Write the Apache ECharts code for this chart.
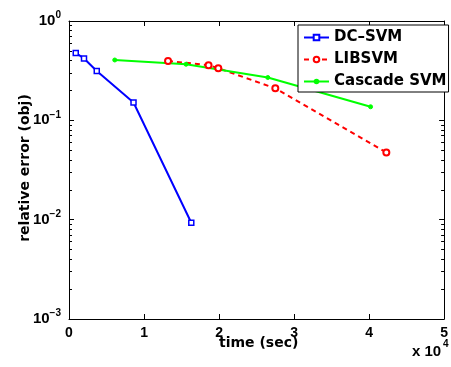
<!DOCTYPE html>
<html><head><meta charset="utf-8">
<script src="https://cdn.jsdelivr.net/npm/echarts@6/dist/echarts.min.js"></script>
<style>html,body{margin:0;padding:0;background:#fff}#c{width:451px;height:367px}</style>
</head><body><div id="c"></div>
<script>
const dcTime = [0.09, 0.20, 0.37, 0.86, 1.63];
const dcErr = [0.477, 0.419, 0.314, 0.151, 0.0093];
const libTime = [1.32, 1.86, 1.99, 2.75, 4.23];
const libErr = [0.396, 0.359, 0.335, 0.21, 0.0475];
const casTime = [0.61, 1.56, 2.65, 4.02];
const casErr = [0.405, 0.367, 0.27, 0.137];
const seriesNames = ['DC\u2013SVM', 'LIBSVM', 'Cascade SVM'];
const xTicks = ['0','1','2','3','4','5'];
const yTickExp = {'1':'0','0.1':'\u22121','0.01':'\u22122','0.001':'\u22123'};

const FONT = '"Liberation Sans", Arial, sans-serif';
const DFONT = '"DejaVu Sans", sans-serif';
const pairs = (xs, ys) => xs.map((x, i) => [x, ys[i]]);

const chart = echarts.init(document.getElementById('c'));
const axisCommon = {
  axisLine: {show: true, onZero: false, lineStyle: {color: '#000', width: 1}},
  splitLine: {show: false}
};
chart.setOption({
  animation: false,
  grid: {left: 69, right: 1, top: 21, bottom: 48},
  xAxis: [
    Object.assign({type: 'value', min: 0, max: 5, interval: 1, position: 'bottom',
      axisTick: {inside: true, length: 5, lineStyle: {color: '#000'}},
      axisLabel: {color: '#000', fontFamily: FONT, fontWeight: 'bold', fontSize: 14, margin: 7,
        formatter: v => xTicks[Math.round(v)]}}, axisCommon),
    Object.assign({type: 'value', min: 0, max: 5, interval: 1, position: 'top',
      axisTick: {inside: true, length: 5, lineStyle: {color: '#000'}},
      axisLabel: {show: false}}, axisCommon)
  ],
  yAxis: [
    Object.assign({type: 'log', logBase: 10, min: 0.001, max: 1, position: 'left',
      axisTick: {inside: true, length: 5, lineStyle: {color: '#000'}},
      minorTick: {show: true, splitNumber: 9, length: 3, lineStyle: {color: '#000'}},
      axisLabel: {color: '#000', fontFamily: FONT, fontWeight: 'bold', margin: 8,
        formatter: v => '{b|10}{s|' + (yTickExp[String(+v.toPrecision(3))] || '') + '}',
        rich: {b: {fontSize: 15, fontWeight: 'bold', fontFamily: FONT, color: '#000'},
               s: {fontSize: 10, fontWeight: 'bold', fontFamily: FONT, color: '#000', padding: [0,0,11,0]}}}}, axisCommon),
    Object.assign({type: 'log', logBase: 10, min: 0.001, max: 1, position: 'right',
      axisTick: {inside: true, length: 5, lineStyle: {color: '#000'}},
      minorTick: {show: true, splitNumber: 9, length: 3, lineStyle: {color: '#000'}},
      axisLabel: {show: false}}, axisCommon)
  ],
  legend: {
    show: true, orient: 'vertical', left: 298, top: 25,
    backgroundColor: '#fff', borderColor: '#000', borderWidth: 1,
    padding: [4, 2, 2, 5], itemGap: 5, itemWidth: 25, itemHeight: 7,
    textStyle: {fontFamily: DFONT, fontWeight: 'bold', fontSize: 15, color: '#000', lineHeight: 17},
    data: seriesNames
  },
  series: [
    {name: seriesNames[0], type: 'line', data: pairs(dcTime, dcErr), xAxisIndex: 0, yAxisIndex: 0,
     symbol: 'rect', symbolSize: 5, showAllSymbol: true,
     lineStyle: {color: '#0000ff', width: 2}, itemStyle: {color: '#fff', borderColor: '#0000ff', borderWidth: 1.5}, color: '#0000ff'},
    {name: seriesNames[1], type: 'line', data: pairs(libTime, libErr), xAxisIndex: 0, yAxisIndex: 0,
     symbol: 'circle', symbolSize: 6,
     lineStyle: {color: '#ff0000', width: 2, type: [5, 4]}, itemStyle: {color: '#fff', borderColor: '#ff0000', borderWidth: 2}, color: '#ff0000'},
    {name: seriesNames[2], type: 'line', data: pairs(casTime, casErr), xAxisIndex: 0, yAxisIndex: 0,
     symbol: 'circle', symbolSize: 4,
     lineStyle: {color: '#00ff00', width: 2}, itemStyle: {color: '#00ff00', borderColor: '#00ff00'}, color: '#00ff00'}
  ],
  graphic: [
    {type: 'text', left: 219, top: 336, style: {text: 'time (sec)', font: 'bold 14px ' + DFONT, fill: '#000'}},
    {type: 'text', left: 412, top: 344, style: {text: 'x 10', font: 'bold 15px ' + FONT, fill: '#000'}},
    {type: 'text', left: 443, top: 339, style: {text: '4', font: 'bold 10px ' + FONT, fill: '#000'}},
    {type: 'text', x: 25, y: 168, rotation: Math.PI / 2, style: {text: 'relative error (obj)', font: 'bold 14px ' + DFONT, fill: '#000', align: 'center', verticalAlign: 'middle'}}
  ]
});
</script></body></html>
